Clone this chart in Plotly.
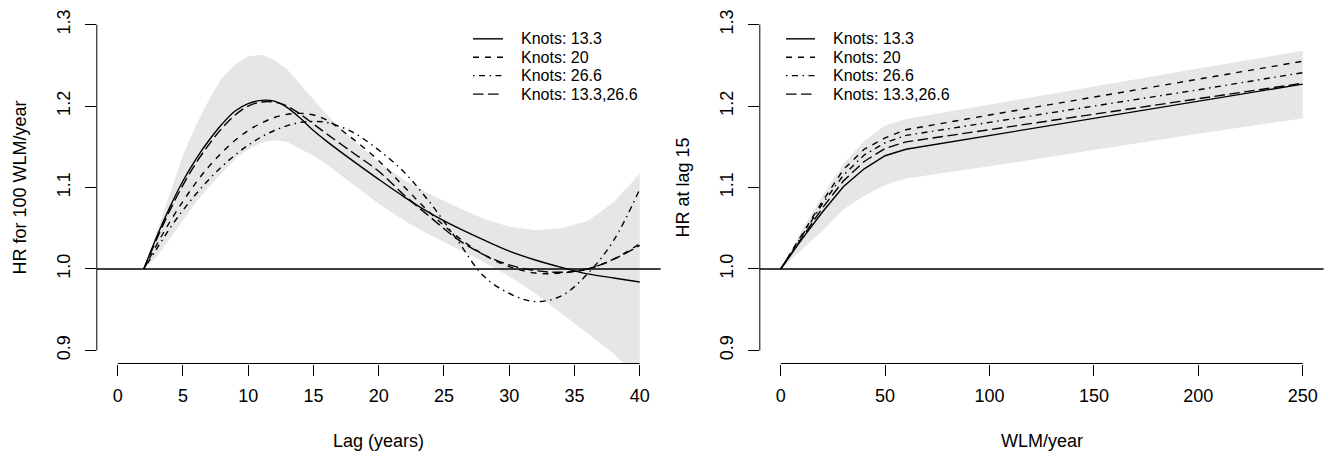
import plotly.graph_objects as go

# ---------------- data: left panel (lag) ----------------
lag = [2, 3, 4, 5, 6, 7, 8, 9, 10, 11, 12, 13, 14, 15, 16, 18, 20, 22, 24, 26, 28, 30, 32, 34, 36, 38, 40]
lag_k133 = [1.000, 1.040, 1.076, 1.108, 1.135, 1.158, 1.178, 1.194, 1.203, 1.207, 1.206, 1.198, 1.185,
            1.170, 1.157, 1.133, 1.110, 1.088, 1.068, 1.051, 1.036, 1.022, 1.011, 1.002, 0.994, 0.989, 0.984]
lag_k20 = [1.000, 1.030, 1.058, 1.083, 1.106, 1.126, 1.143, 1.158, 1.170, 1.179, 1.186, 1.190, 1.191,
           1.189, 1.183, 1.160, 1.133, 1.100, 1.068, 1.040, 1.018, 1.003, 0.995, 0.995, 1.000, 1.012, 1.031]
lag_k266 = [1.000, 1.025, 1.050, 1.072, 1.092, 1.110, 1.126, 1.140, 1.152, 1.162, 1.170, 1.176, 1.180,
            1.181, 1.180, 1.168, 1.146, 1.118, 1.080, 1.036, 0.992, 0.970, 0.960, 0.967, 0.994, 1.035, 1.098]
lag_k133_266 = [1.000, 1.037, 1.072, 1.103, 1.130, 1.153, 1.173, 1.189, 1.200, 1.205, 1.205, 1.200, 1.190,
                1.178, 1.166, 1.143, 1.120, 1.090, 1.063, 1.037, 1.018, 1.005, 0.998, 0.996, 1.000, 1.012, 1.029]
lag_upper = [1.000, 1.045, 1.092, 1.140, 1.176, 1.208, 1.235, 1.251, 1.261, 1.263, 1.257, 1.245, 1.227,
             1.208, 1.190, 1.159, 1.131, 1.109, 1.091, 1.076, 1.062, 1.052, 1.048, 1.050, 1.059, 1.082, 1.117]
lag_lower = [1.000, 1.015, 1.037, 1.060, 1.082, 1.101, 1.118, 1.135, 1.147, 1.155, 1.158, 1.156, 1.148,
             1.139, 1.129, 1.104, 1.080, 1.059, 1.041, 1.025, 1.009, 0.991, 0.970, 0.945, 0.921, 0.896, 0.866]

# ---------------- data: right panel (WLM/year) ----------------
wlm = [0, 10, 20, 30, 40, 50, 60, 100, 150, 200, 250]
wlm_k133 = [1.000, 1.036, 1.070, 1.101, 1.123, 1.139, 1.147, 1.164, 1.185, 1.206, 1.227]
wlm_k20 = [1.000, 1.042, 1.083, 1.122, 1.147, 1.161, 1.171, 1.189, 1.211, 1.233, 1.255]
wlm_k266 = [1.000, 1.040, 1.080, 1.115, 1.140, 1.155, 1.164, 1.180, 1.200, 1.220, 1.241]
wlm_k133_266 = [1.000, 1.038, 1.075, 1.108, 1.132, 1.148, 1.156, 1.171, 1.190, 1.209, 1.228]
wlm_upper = [1.000, 1.047, 1.090, 1.129, 1.157, 1.176, 1.184, 1.202, 1.224, 1.246, 1.268]
wlm_lower = [1.000, 1.024, 1.047, 1.073, 1.090, 1.103, 1.111, 1.126, 1.146, 1.166, 1.185]

labels = ["Knots: 13.3", "Knots: 20", "Knots: 26.6", "Knots: 13.3,26.6"]
lag_xticks = [0, 5, 10, 15, 20, 25, 30, 35, 40]
wlm_xticks = [0, 50, 100, 150, 200, 250]
yticks = [0.9, 1.0, 1.1, 1.2, 1.3]
ytick_text = ["0.9", "1.0", "1.1", "1.2", "1.3"]

# ---------------- styling ----------------
W, H = 1333, 454
FONT = "Liberation Sans, Arial, Helvetica, sans-serif"
dashes = ["solid", "6px,6px", "1.5px,4.5px,6px,4.5px", "10.5px,4.5px"]
LW = 1.4
BAND = "#E6E6E6"


def px_x(p):
    return p / W


def px_y(p):
    return 1 - p / H


fig = go.Figure()

panels = [
    dict(x=lag, ys=[lag_k133, lag_k20, lag_k266, lag_k133_266], up=lag_upper, lo=lag_lower,
         xa="x", ya="y", shape="spline"),
    dict(x=wlm, ys=[wlm_k133, wlm_k20, wlm_k266, wlm_k133_266], up=wlm_upper, lo=wlm_lower,
         xa="x2", ya="y2", shape="linear"),
]

for p in panels:
    fig.add_trace(go.Scatter(
        x=list(p["x"]) + list(p["x"])[::-1],
        y=list(p["up"]) + list(p["lo"])[::-1],
        fill="toself", fillcolor=BAND, line=dict(width=0, shape="linear"),
        mode="lines", hoverinfo="skip", showlegend=False,
        xaxis=p["xa"], yaxis=p["ya"]))
    for ys, d, name in zip(p["ys"], dashes, labels):
        fig.add_trace(go.Scatter(
            x=p["x"], y=ys, mode="lines", name=name, showlegend=False,
            line=dict(color="black", width=LW, dash=d, shape=p["shape"]),
            xaxis=p["xa"], yaxis=p["ya"]))

axis_common = dict(showgrid=False, zeroline=False, showline=False, ticks="outside",
                   ticklen=11, tickwidth=1, tickcolor="black",
                   tickfont=dict(family=FONT, size=18, color="black"))

ydom = [px_y(363.1), px_y(9.6)]
fig.update_layout(
    width=W, height=H, margin=dict(l=0, r=0, t=0, b=0),
    paper_bgcolor="white", plot_bgcolor="white", showlegend=False,
    xaxis=dict(domain=[px_x(96.8), px_x(660.6)], range=[-1.6, 41.6], anchor="y",
               tickvals=lag_xticks, ticklabelstandoff=5, **axis_common),
    yaxis=dict(domain=ydom, range=[0.884, 1.316], anchor="x",
               tickvals=yticks, ticktext=ytick_text, tickangle=-90, ticklabelstandoff=8,
               **axis_common),
    xaxis2=dict(domain=[px_x(759.8), px_x(1323.6)], range=[-10, 260], anchor="y2",
                tickvals=wlm_xticks, ticklabelstandoff=5, **axis_common),
    yaxis2=dict(domain=ydom, range=[0.884, 1.316], anchor="x2",
                tickvals=yticks, ticktext=ytick_text, tickangle=-90, ticklabelstandoff=8,
                **axis_common),
)

shapes = []
# R-style axis lines spanning the tick range, and the reference line at HR = 1
for xa, ya, xt in [("x", "y", lag_xticks), ("x2", "y2", wlm_xticks)]:
    shapes.append(dict(type="line", xref=xa, yref=ya + " domain", x0=xt[0], x1=xt[-1], y0=0, y1=0,
                       line=dict(color="black", width=1)))
    shapes.append(dict(type="line", xref=xa + " domain", yref=ya, x0=0, x1=0, y0=yticks[0], y1=yticks[-1],
                       line=dict(color="black", width=1)))
    shapes.append(dict(type="line", xref=xa + " domain", yref=ya, x0=0, x1=1, y0=1, y1=1,
                       line=dict(color="black", width=1.3)))

annotations = []
# axis titles
for text, xc in [("Lag (years)", 378.7), ("WLM/year", 1041.7)]:
    annotations.append(dict(text=text, x=px_x(xc), y=px_y(441), xref="paper", yref="paper",
                            showarrow=False, xanchor="center", yanchor="middle",
                            font=dict(family=FONT, size=18, color="black")))
for text, xc in [("HR for 100 WLM/year", 20), ("HR at lag 15", 683)]:
    annotations.append(dict(text=text, x=px_x(xc), y=px_y(186.4), xref="paper", yref="paper",
                            showarrow=False, xanchor="center", yanchor="middle", textangle=-90,
                            font=dict(family=FONT, size=18, color="black")))

# legends (R-style, no box)
row_y = [37, 55.5, 74, 92.5]
for seg0, seg1, txt0 in [(473, 503, 519), (786, 815, 831)]:
    for i, (d, lab) in enumerate(zip(dashes, labels)):
        yy = px_y(row_y[i])
        shapes.append(dict(type="line", xref="paper", yref="paper", x0=px_x(seg0), x1=px_x(seg1),
                           y0=yy, y1=yy, line=dict(color="black", width=LW, dash=d)))
        annotations.append(dict(text=lab, x=px_x(txt0), y=yy, xref="paper", yref="paper",
                                showarrow=False, xanchor="left", yanchor="middle",
                                font=dict(family=FONT, size=16, color="black")))

fig.update_layout(shapes=shapes, annotations=annotations)
fig.write_html("out.html")
